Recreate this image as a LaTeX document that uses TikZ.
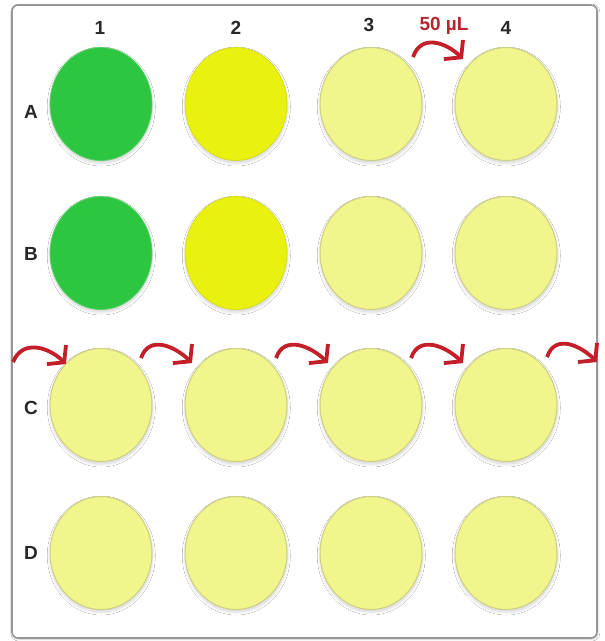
\documentclass[tikz,border=0pt]{standalone}
\usepackage{fontspec}
\setmainfont{Liberation Sans}
\usetikzlibrary{shapes.geometric,arrows.meta,calc,shadows.blur}
\definecolor{wellgreen}{RGB}{44,198,64}
\definecolor{wellyellow}{RGB}{233,241,14}
\definecolor{wellpale}{RGB}{240,245,140}
\definecolor{paleedge}{RGB}{205,207,130}
\definecolor{arrowred}{RGB}{196,30,40}
\definecolor{labelred}{RGB}{178,40,46}
\definecolor{labelgray}{RGB}{40,40,40}
\definecolor{framegray}{RGB}{150,150,150}
\begin{document}
\begin{tikzpicture}[x=1pt,y=-1pt,
  well/.style={ellipse, minimum width=102pt, minimum height=113pt, inner sep=0pt, outer sep=0pt,
    blur shadow={shadow xshift=0.3pt, shadow yshift=-2.5pt, shadow blur radius=3pt, shadow blur steps=10, shadow opacity=18}},
  greenwell/.style={well, fill=wellgreen, draw=wellgreen!80!white, line width=0.8pt},
  yellowwell/.style={well, fill=wellyellow, draw=wellyellow!90!black, line width=0.6pt},
  palewell/.style={well, fill=wellpale, draw=paleedge, line width=1pt},
  lbl/.style={font=\fontsize{19}{19}\selectfont\bfseries, text=labelgray, inner sep=0pt},
  vol/.style={font=\fontsize{19}{19}\selectfont\bfseries, text=labelred, inner sep=0pt},
  flow/.style={draw=arrowred, line width=3.8pt, -{Straight Barb[length=11pt,width=27pt]}},
  frame/.style={draw=framegray, line width=1.6pt, rounded corners=6pt, fill=white,
    blur shadow={shadow xshift=0.8pt, shadow yshift=-1pt, shadow blur radius=2pt, shadow opacity=25}}
]
\fill[white] (0,0) rectangle (605,641);
\useasboundingbox (0,0) rectangle (605,641);
\path[frame] (12,5) rectangle (597,638);

% column labels
\node[lbl] (n1) at (100,28) {1};
\node[lbl] (n2) at (236,28) {2};
\node[lbl] (n3) at (369,25) {3};
\node[lbl] (n4) at (506,28) {4};
\node[vol] (vol) at (444,26) {50 µL};

% row labels
\node[lbl] (rA) at (31,112) {A};
\node[lbl] (rB) at (31,254) {B};
\node[lbl] (rC) at (31,408) {C};
\node[lbl] (rD) at (31,553) {D};

% wells
\node[greenwell]  (A1) at (101,104) {};
\node[yellowwell] (A2) at (236,104) {};
\node[palewell]   (A3) at (371,104) {};
\node[palewell]   (A4) at (506,104) {};
\node[greenwell]  (B1) at (101,253) {};
\node[yellowwell] (B2) at (236,253) {};
\node[palewell]   (B3) at (371,253) {};
\node[palewell]   (B4) at (506,253) {};
\node[palewell]   (C1) at (101,405) {};
\node[palewell]   (C2) at (236,405) {};
\node[palewell]   (C3) at (371,405) {};
\node[palewell]   (C4) at (506,405) {};
\node[palewell]   (D1) at (101,553) {};
\node[palewell]   (D2) at (236,553) {};
\node[palewell]   (D3) at (371,553) {};
\node[palewell]   (D4) at (506,553) {};

% transfer arrows
\coordinate (cin) at (13,362);
\coordinate (cout) at (597,362);
\draw[flow] ($(A3.north east)+(6,-7)$) .. controls +(8,-24) and +(-16,-16) .. ($(A4.north west)+(-7,-5)$);
\draw[flow] (cin) .. controls +(10,-24) and +(-16,-16) .. ($(C1.north west)+(1,-1)$);
\draw[flow] ($(C1.north east)+(4,-7)$) .. controls +(8,-24) and +(-16,-16) .. ($(C2.north west)+(-8,-2)$);
\draw[flow] ($(C2.north east)+(4,-7)$) .. controls +(8,-24) and +(-16,-16) .. ($(C3.north west)+(-7,-2)$);
\draw[flow] ($(C3.north east)+(4,-7)$) .. controls +(8,-24) and +(-16,-16) .. ($(C4.north west)+(-7,-2)$);
\draw[flow] ($(C4.north east)+(5,-8)$) .. controls +(8,-24) and +(-16,-16) .. (cout);
\end{tikzpicture}
\end{document}
